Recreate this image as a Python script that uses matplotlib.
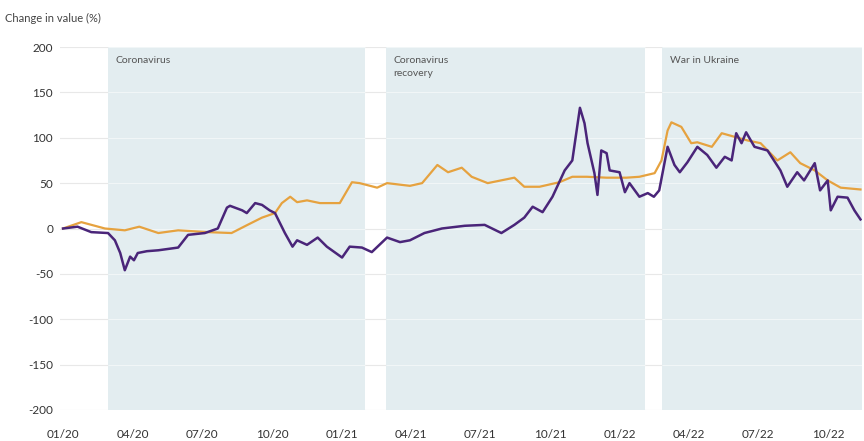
import matplotlib
matplotlib.use("Agg")
import matplotlib.pyplot as plt
import matplotlib.dates as mdates
import pandas as pd

# purple series
purple_dates = [
    "2020-01-01", "2020-01-20", "2020-02-07", "2020-02-29", "2020-03-09", "2020-03-16",
    "2020-03-22", "2020-03-29", "2020-04-03", "2020-04-08", "2020-04-20", "2020-05-05",
    "2020-05-31", "2020-06-13", "2020-07-05", "2020-07-22", "2020-08-03", "2020-08-07",
    "2020-08-23", "2020-08-29", "2020-09-09", "2020-09-18", "2020-09-28", "2020-10-05",
    "2020-10-18", "2020-10-28", "2020-11-03", "2020-11-16", "2020-11-30", "2020-12-12",
    "2021-01-01", "2021-01-11", "2021-01-27", "2021-02-09", "2021-03-01", "2021-03-18",
    "2021-03-31", "2021-04-19", "2021-05-12", "2021-06-11", "2021-07-07", "2021-07-29",
    "2021-08-15", "2021-08-28", "2021-09-08", "2021-09-21", "2021-10-04", "2021-10-20",
    "2021-10-30", "2021-11-09", "2021-11-15", "2021-11-19", "2021-11-28", "2021-12-02",
    "2021-12-07", "2021-12-14", "2021-12-18", "2021-12-31", "2022-01-07", "2022-01-13",
    "2022-01-26", "2022-02-06", "2022-02-14", "2022-02-21", "2022-03-04", "2022-03-13",
    "2022-03-20", "2022-03-30", "2022-04-12", "2022-04-25", "2022-05-07", "2022-05-18",
    "2022-05-27", "2022-06-02", "2022-06-09", "2022-06-15", "2022-06-26", "2022-07-13",
    "2022-07-30", "2022-08-08", "2022-08-21", "2022-08-30", "2022-09-13", "2022-09-20",
    "2022-09-30", "2022-10-04", "2022-10-13", "2022-10-26", "2022-11-04", "2022-11-12",
]
purple_vals = [
    0, 2, -4, -5, -13, -27,
    -46, -31, -35, -27, -25, -24,
    -21, -7, -5, 0, 23, 25,
    20, 17, 28, 26, 20, 17,
    -5, -20, -13, -18, -10, -20,
    -32, -20, -21, -26, -10, -15,
    -13, -5, 0, 3, 4, -5,
    4, 12, 24, 18, 35, 64,
    75, 133, 116, 94, 61, 37,
    86, 83, 64, 62, 40, 50,
    35, 39, 35, 42, 90, 70,
    62, 73, 90, 81, 67, 79,
    75, 105, 94, 106, 90, 86,
    64, 46, 62, 53, 72, 42,
    53, 20, 35, 34, 20, 10,
]

# orange series
orange_dates = [
    "2020-01-01", "2020-01-25", "2020-02-25", "2020-03-22", "2020-04-10", "2020-05-05",
    "2020-05-31", "2020-07-09", "2020-08-09", "2020-08-30", "2020-09-18", "2020-10-05",
    "2020-10-14", "2020-10-25", "2020-11-03", "2020-11-16", "2020-12-03", "2020-12-29",
    "2021-01-14", "2021-01-24", "2021-02-16", "2021-03-01", "2021-03-31", "2021-04-16",
    "2021-05-06", "2021-05-20", "2021-06-07", "2021-06-20", "2021-07-11", "2021-08-15",
    "2021-08-28", "2021-09-17", "2021-10-13", "2021-10-30", "2021-11-18", "2021-12-14",
    "2022-01-09", "2022-01-26", "2022-02-15", "2022-02-24", "2022-03-04", "2022-03-09",
    "2022-03-22", "2022-04-04", "2022-04-12", "2022-05-01", "2022-05-14", "2022-05-31",
    "2022-06-17", "2022-07-04", "2022-07-26", "2022-08-12", "2022-08-25", "2022-09-13",
    "2022-09-30", "2022-10-17", "2022-11-12",
]
orange_vals = [
    0, 7, 0, -2, 2, -5,
    -2, -4, -5, 4, 12, 17,
    28, 35, 29, 31, 28, 28,
    51, 50, 45, 50, 47, 50,
    70, 62, 67, 57, 50, 56,
    46, 46, 51, 57, 57, 56,
    56, 57, 61, 75, 108, 117,
    112, 94, 95, 90, 105, 101,
    97, 94, 75, 84, 72, 64,
    53, 45, 43,
]

period_labels = ["Coronavirus", "Coronavirus\nrecovery", "War in Ukraine"]
period_starts = ["2020-02-29", "2021-02-27", "2022-02-25"]
period_ends = ["2021-01-31", "2022-02-02", "2022-11-14"]

y_ticks = [-200, -150, -100, -50, 0, 50, 100, 150, 200]

PURPLE = "#4a2579"
ORANGE = "#e6a23f"
SHADE = "#e3edf0"

plt.rcParams["font.family"] = ["Lato", "DejaVu Sans"]
plt.rcParams["axes.unicode_minus"] = False

fig = plt.figure(figsize=(8.64, 4.41), dpi=100)
ax = fig.add_axes([60 / 864, 1 - 410 / 441, 802 / 864, 363 / 441])

x_lo = pd.Timestamp("2019-12-28")
x_hi = pd.Timestamp("2022-11-14")

# grid: grey on white, slightly lighter than the shading inside periods
for yv in y_ticks:
    ax.axhline(yv, color="#e8e8e8", linewidth=0.8, zorder=0)

for label, s, e in zip(period_labels, period_starts, period_ends):
    s = pd.Timestamp(s)
    e = pd.Timestamp(e)
    ax.axvspan(s, e, color=SHADE, linewidth=0, zorder=1)
    ax.hlines(y_ticks, s, e, color="#f1f6f7", linewidth=0.8, zorder=1.5)
    ax.text(s + pd.Timedelta(days=10), 190, label, fontsize=7.5, color="#555555",
            va="top", ha="left", linespacing=1.6, zorder=3)

ax.plot(pd.to_datetime(orange_dates), orange_vals, color=ORANGE, linewidth=1.6, zorder=4)
ax.plot(pd.to_datetime(purple_dates), purple_vals, color=PURPLE, linewidth=1.8, zorder=5)

ax.set_xlim(x_lo, x_hi)
ax.set_ylim(-200, 200)
ax.set_yticks(y_ticks)
ax.xaxis.set_major_locator(mdates.MonthLocator(bymonth=[1, 4, 7, 10]))
ax.xaxis.set_major_formatter(mdates.DateFormatter("%m/%y"))
ax.tick_params(axis="both", length=0, labelsize=8.5, colors="#333333")
ax.tick_params(axis="x", pad=14)
ax.tick_params(axis="y", pad=5)
for sp in ax.spines.values():
    sp.set_visible(False)

fig.text(5 / 864, 1 - 18 / 441, "Change in value (%)", fontsize=8, color="#444444",
         ha="left", va="center")

fig.savefig("out.png", dpi=100)
